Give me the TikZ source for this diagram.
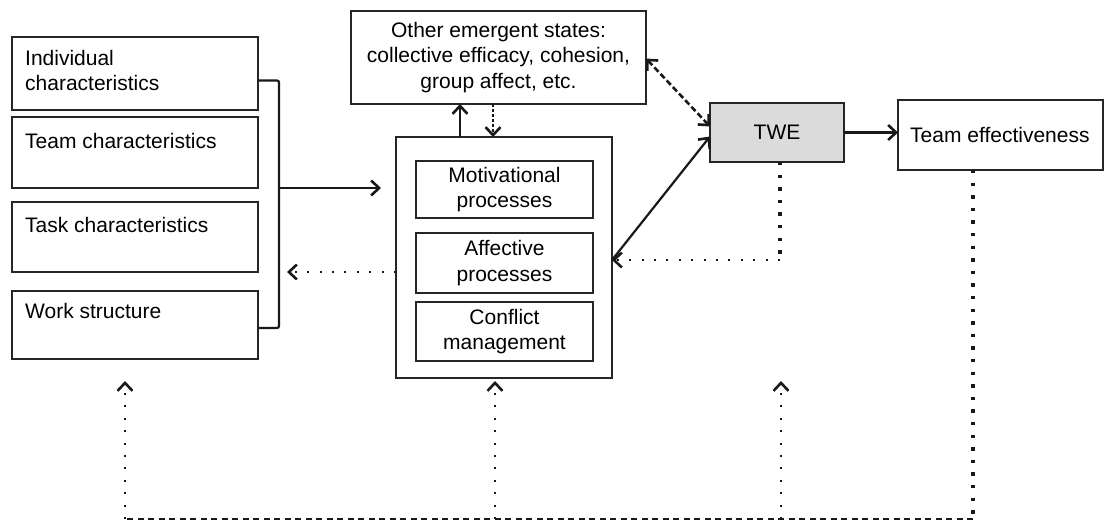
\documentclass[tikz,border=0pt]{standalone}
\usepackage{fontspec}
\setmainfont{Liberation Sans}
\usetikzlibrary{arrows.meta}
\definecolor{lineg}{gray}{0.15}
\definecolor{twegray}{gray}{0.86}
\tikzset{
  boxnode/.style={draw=lineg, line width=2pt, inner sep=0pt, outer sep=0pt, anchor=north west},
  txt/.style={inner sep=0pt, font=\fontsize{21}{25.5}\selectfont},
  conn/.style={draw=black!90, line width=2.2pt},
  barb/.tip={Straight Barb[length=8pt,width=15pt,line width=2.6pt]},
  head/.style={-barb},
  dots/.style={line width=2.5pt, dash pattern=on 2pt off 10.4pt},
  bigdots/.style={line width=3.4pt, dash pattern=on 3.4pt off 9.2pt},
  dashline/.style={line width=1.6pt, dash pattern=on 6pt off 4.5pt},
}
\begin{document}
\begin{tikzpicture}[x=1pt,y=-1pt]
\useasboundingbox (0,0) rectangle (1105,522);
% left boxes
\node[boxnode, minimum width=246pt, minimum height=73pt] (ind) at (12,37) {};
\node[boxnode, minimum width=246pt, minimum height=71pt] (team) at (12,117) {};
\node[boxnode, minimum width=246pt, minimum height=70pt] (task) at (12,202) {};
\node[boxnode, minimum width=246pt, minimum height=68pt] (work) at (12,291) {};
\node[txt, anchor=north west, align=left] (indt) at ([shift={(13pt,-13pt)}]ind.north west) {Individual\\characteristics};
\node[txt, anchor=north west, align=left] (teamt) at ([shift={(13pt,-16pt)}]team.north west) {Team characteristics};
\node[txt, anchor=north west, align=left] (taskt) at ([shift={(13pt,-15pt)}]task.north west) {Task characteristics};
\node[txt, anchor=north west, align=left] (workt) at ([shift={(13pt,-12pt)}]work.north west) {Work structure};
% other emergent states
\node[boxnode, minimum width=295pt, minimum height=93pt] (others) at (351,11) {};
\node[txt, align=center] (otherst) at (others.center) {Other emergent states:\\collective efficacy, cohesion,\\group affect, etc.};
% processes
\node[boxnode, minimum width=216pt, minimum height=241pt] (proc) at (396,137) {};
\node[boxnode, minimum width=177pt, minimum height=57pt] (mot) at (416,161) {};
\node[boxnode, minimum width=177pt, minimum height=60pt] (aff) at (416,233) {};
\node[boxnode, minimum width=177pt, minimum height=59pt] (con) at (416,302) {};
\node[txt, align=center] (mott) at (mot.center) {Motivational\\processes};
\node[txt, align=center] (afft) at (aff.center) {Affective\\processes};
\node[txt, align=center] (cont) at (con.center) {Conflict\\management};
% TWE and team effectiveness
\node[boxnode, fill=twegray, minimum width=134pt, minimum height=59pt] (twe) at (710,103) {};
\node[txt] (twet) at (twe.center) {TWE};
\node[boxnode, minimum width=205pt, minimum height=70pt] (te) at (898,100) {};
\node[txt, anchor=west] (tet) at ([xshift=12pt]te.west) {Team effectiveness};
% coordinates
\coordinate (brx) at (279,188);
\coordinate (inend) at (381,188);
\coordinate (fbend) at (287,272);
\coordinate (upx) at (460,0);
\coordinate (dnx) at (493,0);
\coordinate (twex) at (780,260);
\coordinate (b1) at (125,519);
\coordinate (b2) at (495,519);
\coordinate (b3) at (781,519);
\coordinate (b4) at (973,519);
\coordinate (tip1) at (125,381);
\coordinate (tip2) at (495,381);
\coordinate (tip3) at (781,381);
% bracket and input arrow
\draw[conn, rounded corners=2pt] ([yshift=-7pt]ind.east) -| (brx) |- ([yshift=-3pt]work.east);
\draw[conn, head] (brx) -- (inend);
% feedback dotted to inputs
\draw[conn, dots, head] (proc.west |- fbend) -- (fbend);
% processes <-> others
\draw[conn, head] (upx |- proc.north) -- (upx |- others.south);
\draw[conn, line width=1.7pt, dash pattern=on 2.5pt off 2.5pt, head] (dnx |- others.south) -- (dnx |- proc.north);
% others <-> TWE dashed
\draw[conn, line width=2.6pt, dash pattern=on 6pt off 3pt, barb-barb] ([yshift=-1pt]others.east) -- ([yshift=6pt]twe.west);
% processes -> TWE solid
\draw[conn, head] (proc.east |- twex) -- ([yshift=-4pt]twe.west);
% TWE -> processes dotted
\draw[conn, bigdots] (twe.south -| twex) -- (twex);
\draw[conn, dots, head] (twex) -- (proc.east |- twex);
% TWE -> team effectiveness
\draw[conn, head] (twe.east) -- (twe.east -| te.west);
% bottom feedback
\draw[conn, bigdots] (te.south -| b4) -- (b4);
\draw[conn, dashline] (b4) -- (b1);
\draw[conn, dots, head] (b1) -- (tip1);
\draw[conn, dots, head] (b2) -- (tip2);
\draw[conn, dots, head] (b3) -- (tip3);
\end{tikzpicture}
\end{document}
